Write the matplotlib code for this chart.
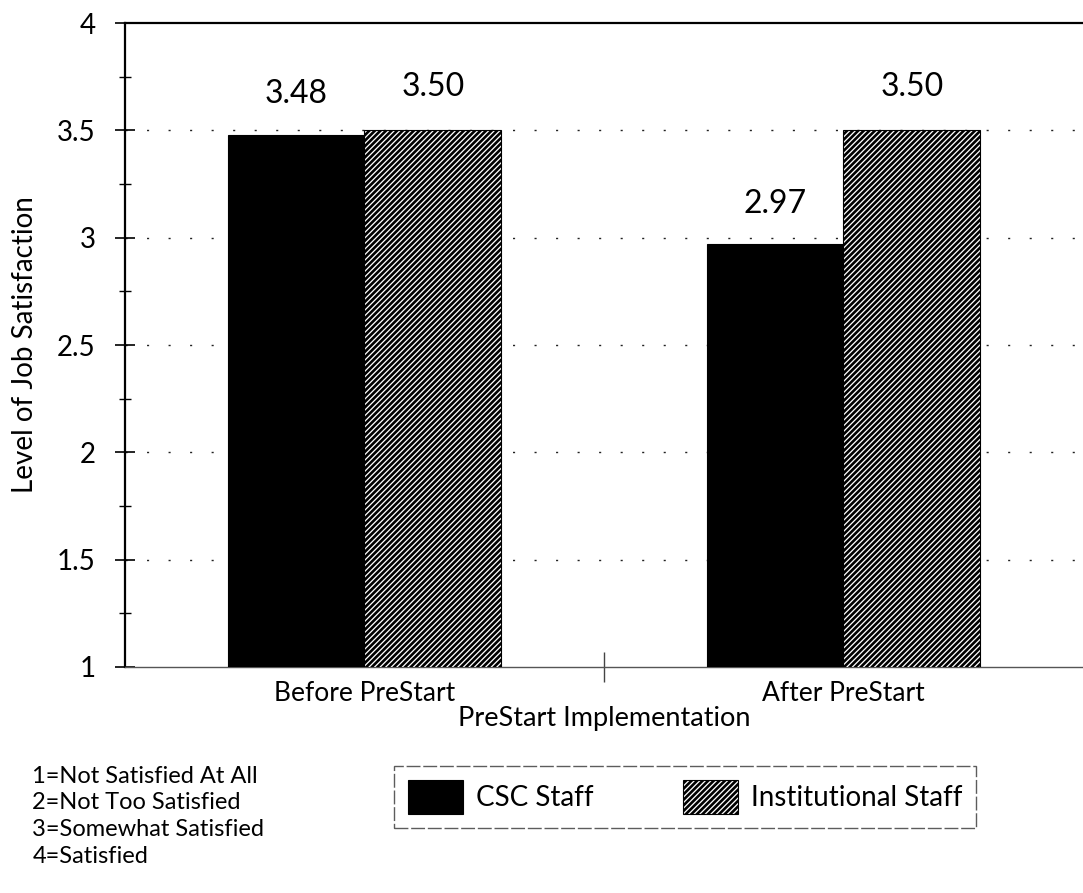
import numpy as np
import matplotlib
matplotlib.use('Agg')
import matplotlib.pyplot as plt
from matplotlib.ticker import MultipleLocator, FixedLocator

# survey results, mean job satisfaction score (1-4 scale)
groups = ["Before PreStart", "After PreStart"]
csc_staff = [3.48, 2.97]
institutional_staff = [3.50, 3.50]
series_names = ["CSC Staff", "Institutional Staff"]
scale_notes = ["1=Not Satisfied At All", "2=Not Too Satisfied",
               "3=Somewhat Satisfied", "4=Satisfied"]

plt.rcParams['font.family'] = ['Lato', 'DejaVu Sans']
plt.rcParams['hatch.linewidth'] = 1.9

fig = plt.figure(figsize=(10.83, 8.93), dpi=100)
ax = fig.add_axes([0.1154, 0.2531, 0.8846, 0.7211])

centers = np.arange(len(groups)) + 0.5
w = 0.285

ax.bar(centers - w / 2, csc_staff, w, bottom=0, color='black',
       edgecolor='black', linewidth=0.8, zorder=3, label=series_names[0])
ax.bar(centers + w / 2, institutional_staff, w, bottom=0, color='white',
       edgecolor='black', hatch='//////', linewidth=0.8, zorder=3,
       label=series_names[1])

for xc, v in zip(centers - w / 2, csc_staff):
    ax.annotate("%.2f" % v, (xc, v), xytext=(0, 29), textcoords='offset points',
                ha='center', va='center', fontsize=23)
for xc, v in zip(centers + w / 2, institutional_staff):
    ax.annotate("%.2f" % v, (xc, v), xytext=(0, 31), textcoords='offset points',
                ha='center', va='center', fontsize=23)

ax.set_xlim(0, 2)
ax.set_ylim(1, 4)

# dotted reference lines between the ends of the scale
ax.yaxis.set_minor_locator(MultipleLocator(0.25))
ax.set_yticks([1, 1.5, 2, 2.5, 3, 3.5, 4])
ax.set_yticklabels(["1", "1.5", "2", "2.5", "3", "3.5", "4"], fontsize=20)
for yv in [1.5, 2, 2.5, 3, 3.5]:
    ax.axhline(yv, color='#222222', lw=1.0, ls=(0, (1.5, 14)), zorder=1)

ax.xaxis.set_major_locator(FixedLocator([1]))
ax.xaxis.set_minor_locator(FixedLocator(centers))
ax.set_xticklabels([""])
ax.set_xticklabels(groups, minor=True, fontsize=19)
ax.tick_params(axis='x', which='minor', length=0, pad=10)
ax.tick_params(axis='x', which='major', length=22, direction='inout',
               color='#444444', width=1)
ax.tick_params(axis='y', which='major', length=14, direction='inout', width=1.2, pad=14)
ax.tick_params(axis='y', which='minor', length=8, direction='inout', width=1)

ax.spines['right'].set_visible(False)
ax.spines['top'].set_linewidth(1.6)
ax.spines['left'].set_linewidth(1.6)
ax.spines['bottom'].set_color('#555555')
ax.spines['bottom'].set_linewidth(1.0)

ax.set_ylabel("Level of Job Satisfaction", fontsize=20, labelpad=14)
ax.set_xlabel("PreStart Implementation", fontsize=19.5, labelpad=0)

leg = ax.legend(loc='center', bbox_to_anchor=(0.6325, 0.1075),
                bbox_transform=fig.transFigure, ncol=2, fontsize=20,
                frameon=True, fancybox=False, edgecolor='#333333',
                handlelength=2.0, handleheight=1.55, columnspacing=3.2,
                borderpad=0.5, handletextpad=0.45, borderaxespad=0)
leg.get_frame().set_linewidth(1.0)
leg.get_frame().set_linestyle((0, (10, 2)))

fig.text(0.030, 0.1425, "\n".join(scale_notes), ha='left', va='top',
         fontsize=17, linespacing=1.33)

fig.savefig('out.png', dpi=100, facecolor='white')
